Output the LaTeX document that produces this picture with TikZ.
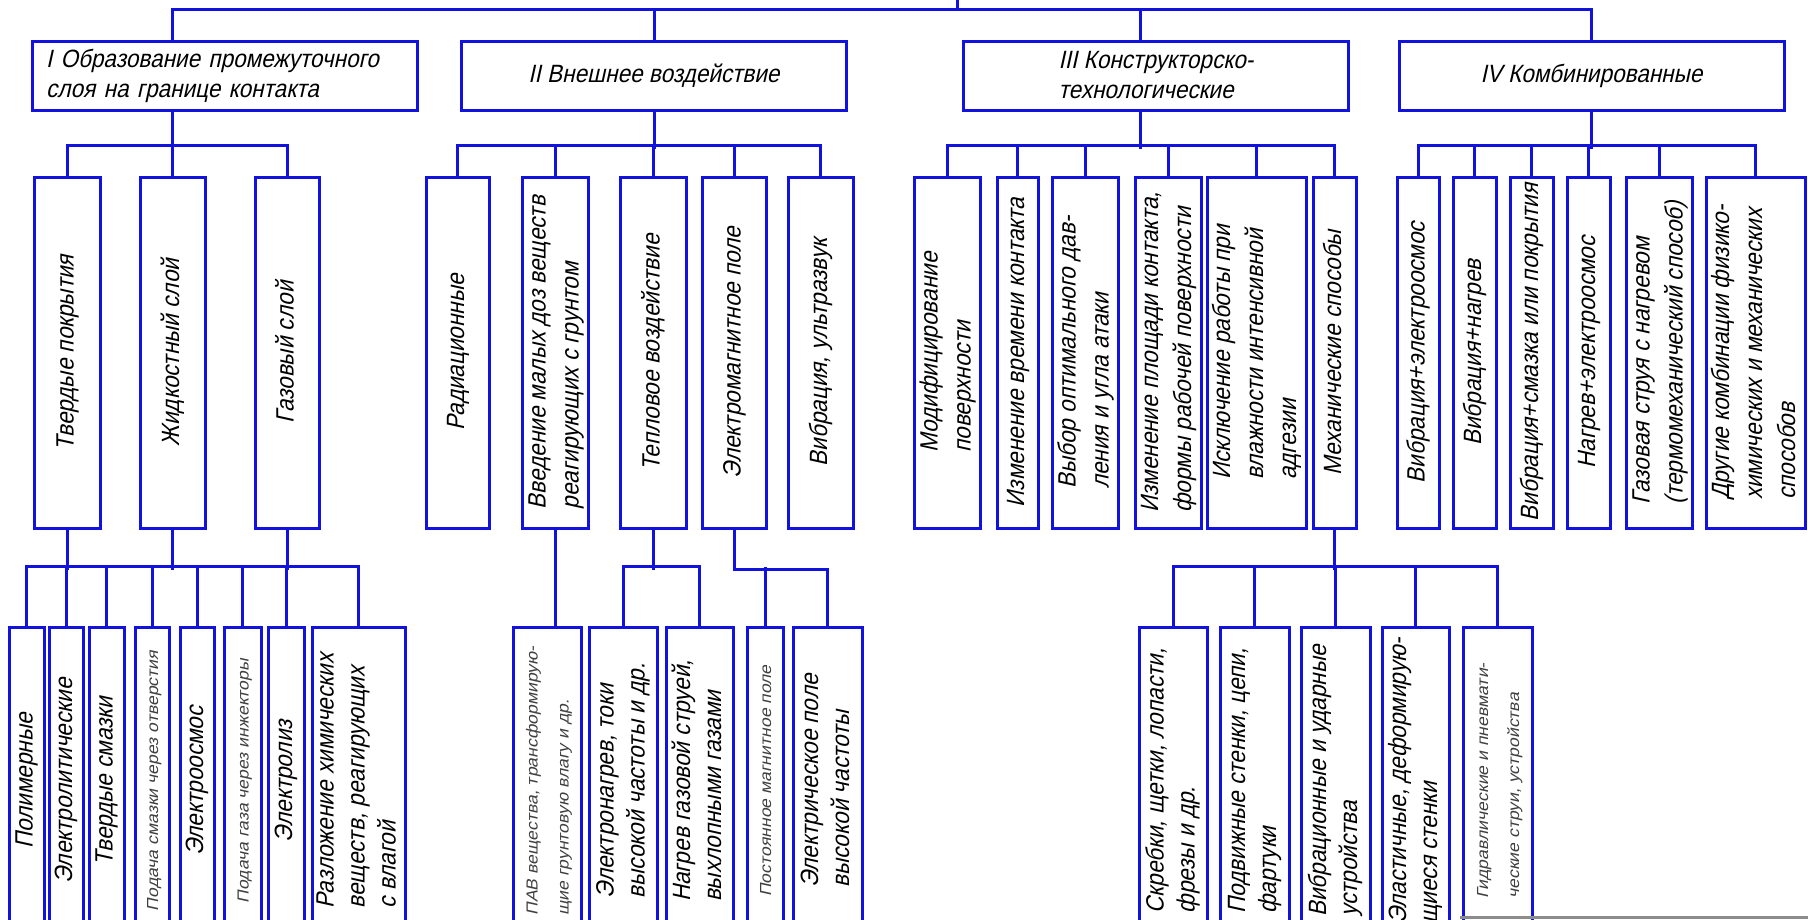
\documentclass[tikz,border=0pt]{standalone}
\usepackage{fontspec}
\usepackage{graphicx}
\newfontfamily\gostfont[FakeStretch=0.9,FakeSlant=0.22]{Liberation Sans}
\newfontfamily\gostthin[FakeStretch=1.1,FakeSlant=0.22]{Liberation Sans}
\definecolor{lineblue}{RGB}{18,18,222}

\tikzstyle{head} = [rectangle, draw=lineblue, line width=3pt, inner sep=0pt, minimum width=385pt, minimum height=69pt, font=\gostfont\fontsize{25}{30}\selectfont]
\tikzstyle{sub} = [rectangle, draw=lineblue, line width=3pt, inner sep=0pt, minimum height=351pt, font=\gostfont\fontsize{25}{33}\selectfont]
\tikzstyle{leaf} = [rectangle, draw=lineblue, line width=3pt, inner sep=0pt, minimum height=308pt, font=\gostfont\fontsize{25}{31}\selectfont]
\tikzstyle{smalltxt} = [font=\gostthin\fontsize{16}{31}\selectfont, text=black!75]
\tikzstyle{link} = [draw=lineblue, line width=3pt]

\newcommand{\vtext}[1]{\rotatebox{90}{\begin{tabular}{@{}l@{}}#1\end{tabular}}}

\begin{document}
\begin{tikzpicture}[x=1pt, y=-1pt]
\useasboundingbox (0,0) rectangle (1808,919);
\clip (0,0) rectangle (1808,919);

% groups
\node (gI) [head, text width=357pt, align=left] at (224.5,75.5) {I Образование промежуточного\\слоя на границе контакта};
\node (gII) [head] at (654,75.5) {II Внешнее воздействие};
\node (gIII) [head, align=left] at (1156,75.5) {III Конструкторско-\\технологические};
\node (gIV) [head] at (1591.5,75.5) {IV Комбинированные};

% second level
\node (tp) [sub, minimum width=66pt] at (67,352.5) {\vtext{Твердые покрытия}};
\node (zs) [sub, minimum width=65pt] at (172.5,352.5) {\vtext{Жидкостный слой}};
\node (gs) [sub, minimum width=64pt] at (287,352.5) {\vtext{Газовый слой}};

\node (rad) [sub, minimum width=63pt] at (457.5,352.5) {\vtext{Радиационные}};
\node (vved) [sub, minimum width=65pt] at (555.5,352.5) {\vtext{Введение малых доз веществ\\реагирующих с грунтом}};
\node (tepl) [sub, minimum width=66pt] at (653,352.5) {\vtext{Тепловое воздействие}};
\node (em) [sub, minimum width=64pt] at (734,352.5) {\vtext{Электромагнитное поле}};
\node (vibr) [sub, minimum width=65pt] at (820.5,352.5) {\vtext{Вибрация, ультразвук}};

\node (mod) [sub, minimum width=65pt] at (947.5,352.5) {\vtext{Модифицирование\\поверхности}};
\node (izvr) [sub, minimum width=41pt] at (1017.5,352.5) {\vtext{Изменение времени контакта}};
\node (vyb) [sub, minimum width=63pt] at (1085.5,352.5) {\vtext{Выбор оптимального дав-\\ления и угла атаки}};
\node (izpl) [sub, minimum width=64pt] at (1168,352.5) {\vtext{Изменение площади контакта,\\формы рабочей поверхности}};
\node (iskl) [sub, minimum width=93pt] at (1256.5,352.5) {\vtext{Исключение работы при\\влажности интенсивной\\адгезии}};
\node (meh) [sub, minimum width=43pt] at (1334.5,352.5) {\vtext{Механические способы}};

\node (ve) [sub, minimum width=42pt] at (1418,352.5) {\vtext{Вибрация+электроосмос}};
\node (vn) [sub, minimum width=43pt] at (1474.5,352.5) {\vtext{Вибрация+нагрев}};
\node (vs) [sub, minimum width=43pt] at (1531.5,352.5) {\vtext{Вибрация+смазка или покрытия}};
\node (ne) [sub, minimum width=43pt] at (1588.5,352.5) {\vtext{Нагрев+электроосмос}};
\node (gstr) [sub, minimum width=65pt] at (1659.5,352.5) {\vtext{Газовая струя с нагревом\\(термомеханический способ)}};
\node (dr) [sub, minimum width=97pt] at (1755.5,352.5) {\vtext{Другие комбинации физико-\\химических и механических\\способов}};

% third level
\node (pol) [leaf, minimum width=35pt] at (26.5,781) {\vtext{Полимерные}};
\node (elt) [leaf, minimum width=34pt] at (66,781) {\vtext{Электролитические}};
\node (tsm) [leaf, minimum width=35pt] at (106.5,781) {\vtext{Твердые смазки}};
\node (pods) [leaf, smalltxt, minimum width=34pt] at (152,781) {\vtext{Подача смазки через отверстия}};
\node (eos) [leaf, minimum width=34pt] at (197,781) {\vtext{Электроосмос}};
\node (podg) [leaf, smalltxt, minimum width=37pt] at (242.5,781) {\vtext{Подача газа через инжекторы}};
\node (elz) [leaf, minimum width=36pt] at (286,781) {\vtext{Электролиз}};
\node (razl) [leaf, minimum width=93pt] at (358.5,781) {\vtext{Разложение химических\\веществ, реагирующих\\с влагой}};

\node (pav) [leaf, smalltxt, minimum width=68pt] at (547,781) {\vtext{ПАВ вещества, трансформирую-\\щие грунтовую влагу и др.}};
\node (eng) [leaf, minimum width=68pt] at (623,781) {\vtext{Электронагрев, токи\\высокой частоты и др.}};
\node (ngs) [leaf, minimum width=67pt] at (699.5,781) {\vtext{Нагрев газовой струей,\\выхлопными газами}};
\node (pmp) [leaf, smalltxt, minimum width=36pt] at (765,781) {\vtext{Постоянное магнитное поле}};
\node (elp) [leaf, minimum width=69pt] at (827.5,781) {\vtext{Электрическое поле\\высокой частоты}};

\node (skr) [leaf, minimum width=68pt] at (1173,781) {\vtext{Скребки, щетки, лопасти,\\фрезы и др.}};
\node (podv) [leaf, minimum width=69pt] at (1254.5,781) {\vtext{Подвижные стенки, цепи,\\фартуки}};
\node (vibu) [leaf, minimum width=69pt] at (1335.5,781) {\vtext{Вибрационные и ударные\\устройства}};
\node (elast) [leaf, minimum width=67pt] at (1415.5,781) {\vtext{Эластичные, деформирую-\\щиеся стенки}};
\node (gidr) [leaf, smalltxt, minimum width=69pt] at (1497.5,781) {\vtext{Гидравлические и пневмати-\\ческие струи, устройства}};

% top bus
\coordinate (root) at (957,0);
\coordinate (topbus) at (957,9);
\draw[link] (root) -- (topbus);
\draw[link] ([xshift=-52.5pt]gI.north) |- (topbus) -| (gIV.north);
\draw[link] (gII.north) -- ++(0,-32);
\draw[link] ([xshift=-16pt]gIII.north) -- ++(0,-32);

% group I
\draw[link] ([xshift=-52.5pt]gI.south) -- ++(0,37);
\draw[link] (tp.north) -- ++(0,-30) -| (gs.north);
\draw[link] (zs.north) -- ++(0,-30);

% group II
\draw[link] (gII.south) -- ++(0,37);
\draw[link] (rad.north) -- ++(0,-30) -| (vibr.north);
\draw[link] (vved.north) -- ++(0,-30);
\draw[link] (tepl.north) -- ++(0,-30);
\draw[link] (em.north) -- ++(0,-30);

% group III
\draw[link] ([xshift=-16pt]gIII.south) -- ++(0,37);
\draw[link] (mod.north) -- ++(0,-30) -| (meh.north);
\draw[link] (izvr.north) -- ++(0,-30);
\draw[link] (vyb.north) -- ++(0,-30);
\draw[link] (izpl.north) -- ++(0,-30);
\draw[link] (iskl.north) -- ++(0,-30);

% group IV
\draw[link] (gIV.south) -- ++(0,37);
\draw[link] (ve.north) -- ++(0,-30) -| (dr.north);
\draw[link] (vn.north) -- ++(0,-30);
\draw[link] (vs.north) -- ++(0,-30);
\draw[link] (ne.north) -- ++(0,-30);
\draw[link] (gstr.north) -- ++(0,-30);

% third level, group I
\draw[link] (tp.south) -- ++(0,40);
\draw[link] (zs.south) -- ++(0,40);
\draw[link] (gs.south) -- ++(0,40);
\draw[link] (pol.north) -- ++(0,-59) -| (razl.north);
\draw[link] (elt.north) -- ++(0,-59);
\draw[link] (tsm.north) -- ++(0,-59);
\draw[link] (pods.north) -- ++(0,-59);
\draw[link] (eos.north) -- ++(0,-59);
\draw[link] (podg.north) -- ++(0,-59);
\draw[link] (elz.north) -- ++(0,-59);

% third level, group II
\draw[link] (vved.south) -- (vved.south |- pav.north);
\draw[link] (tepl.south) -- ++(0,40);
\draw[link] (eng.north) -- ++(0,-59) -| (ngs.north);
\draw[link] (em.south) -- ++(0,40) -| (elp.north);
\draw[link] (pmp.north) -- ++(0,-59);

% third level, group III
\draw[link] (meh.south) -- ++(0,40);
\draw[link] (skr.north) -- ++(0,-59) -| (gidr.north);
\draw[link] (podv.north) -- ++(0,-59);
\draw[link] (vibu.north) -- ++(0,-59);
\draw[link] (elast.north) -- ++(0,-59);

\draw[black!45, line width=3pt] (1460,917) -- (1808,917);
\end{tikzpicture}
\end{document}
